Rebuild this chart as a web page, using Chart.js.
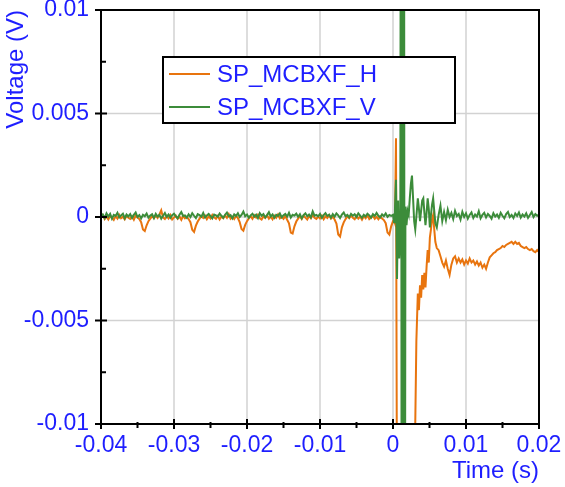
<!DOCTYPE html>
<html>
<head>
<meta charset="utf-8">
<title>SP_MCBXF voltage</title>
<script src="https://cdn.jsdelivr.net/npm/chart.js@4.4.0/dist/chart.umd.min.js"></script>
<style>
  body { margin: 0; background: #fff; }
  #chart { display: block; }
</style>
</head>
<body>
<canvas id="chart" width="565" height="487"></canvas>
<script>
// Series names
const seriesNames = ['SP_MCBXF_H', 'SP_MCBXF_V'];

// Quiet part before the event: one sample every 0.25 ms from -40 ms (values in mV)
const quietStartMs = -40;
const quietStepMs = 0.25;
const quietH = [
  -0.05, 0.08, -0.10, 0.02, -0.12, 0.05, -0.03, -0.14,
  0.04, -0.08, 0.10, -0.06, 0.01, -0.11, 0.06, -0.04,
  -0.09, 0.03, -0.13, 0.07, -0.02, -0.10, -0.25, -0.60,
  -0.68, -0.40, -0.20, -0.08, 0.03, -0.06, 0.08, -0.04,
  0.12, 0.32, -0.02, -0.10, 0.04, -0.07, 0.09, -0.12,
  -0.03, 0.06, -0.09, 0.02, -0.14, 0.05, -0.06, 0.01,
  -0.10, -0.25, -0.62, -0.72, -0.42, -0.22, -0.08, 0.04,
  -0.05, 0.07, -0.11, 0.03, -0.07, 0.10, -0.02, -0.09,
  0.05, -0.12, 0.02, -0.06, 0.08, -0.04, 0.14, -0.08,
  0.01, -0.10, 0.06, -0.05, -0.25, -0.58, -0.66, -0.38,
  -0.20, -0.07, 0.04, -0.09, 0.08, -0.03, 0.11, -0.06,
  -0.12, 0.03, -0.05, 0.09, -0.08, 0.02, -0.11, 0.06,
  -0.04, 0.12, -0.07, 0.01, -0.09, 0.05, -0.13, -0.30,
  -0.75, -0.80, -0.45, -0.22, -0.08, 0.04, -0.10, 0.07,
  -0.03, -0.12, 0.05, -0.06, 0.10, -0.04, -0.09, 0.02,
  -0.07, 0.06, -0.11, 0.03, -0.05, 0.09, -0.08, 0.01,
  -0.12, -0.32, -0.85, -0.95, -0.50, -0.26, -0.10, 0.03,
  -0.06, 0.08, -0.04, -0.11, 0.05, -0.08, 0.02, -0.13,
  0.04, -0.06, 0.09, -0.10, -0.02, 0.06, -0.09, 0.01,
  -0.11, 0.03, -0.07, -0.15, -0.30, -0.75, -0.85, -0.45
];
const quietV = [
  0.00, 0.12, -0.05, 0.18, 0.02, 0.15, -0.08, 0.10,
  0.05, 0.20, -0.02, 0.08, 0.16, -0.06, 0.12, 0.03,
  0.14, -0.04, 0.10, 0.22, 0.00, 0.09, -0.07, 0.11,
  0.04, 0.17, -0.03, 0.07, 0.13, -0.05, 0.15, 0.02,
  0.10, -0.08, 0.06, 0.19, 0.01, 0.12, -0.04, 0.09,
  0.16, 0.03, -0.06, 0.11, 0.24, 0.05, 0.08, -0.03,
  0.13, 0.00, 0.18, 0.06, -0.05, 0.14, 0.09, 0.02,
  0.20, -0.02, 0.07, 0.15, 0.04, -0.07, 0.12, 0.08,
  0.01, 0.17, 0.06, -0.04, 0.11, 0.21, 0.03, 0.09,
  -0.06, 0.13, 0.05, 0.18, 0.00, 0.10, 0.26, 0.04,
  0.12, -0.03, 0.08, 0.16, 0.02, 0.11, -0.05, 0.19,
  0.06, 0.14, -0.02, 0.09, 0.23, 0.03, 0.12, -0.04,
  0.10, 0.05, 0.17, -0.01, 0.08, 0.15, 0.02, 0.20,
  -0.03, 0.11, 0.07, 0.16, 0.01, 0.13, -0.06, 0.09,
  0.18, 0.04, 0.12, -0.02, 0.27, 0.06, 0.10, 0.03,
  0.15, -0.04, 0.09, 0.19, 0.05, 0.11, -0.03, 0.14,
  0.02, 0.17, 0.08, -0.05, 0.12, 0.22, 0.04, 0.10,
  -0.02, 0.15, 0.06, 0.13, 0.00, 0.18, 0.07, -0.04,
  0.11, 0.03, 0.16, 0.08, -0.03, 0.14, 0.05, 0.20,
  0.06, -0.02, 0.13, 0.04, 0.17, 0.01, 0.10, 0.05
];

// The event around t = 0, sampled finer (ms / mV)
const eventMs = [
  0.00, 0.14, 0.27, 0.41, 0.55, 0.70, 0.85, 1.00, 1.10, 1.20, 1.30, 1.40, 1.50, 1.60,
  1.70, 1.85, 2.00, 2.15, 2.30, 2.45, 2.60, 2.75, 2.90, 3.05, 3.20, 3.40, 3.55, 3.70,
  3.85, 4.00, 4.15, 4.30, 4.45, 4.60, 4.75, 4.90, 5.05, 5.20, 5.35, 5.50, 5.65, 5.80
];
const eventH = [
  -0.20, -0.15, -0.30, 3.80, -15, -15, -15, -15, -15, -15, -15, -15, -15, -15,
  -15, -15, -15, -15, -15, -15, -15, -15, -15, -10, -6.0, -3.7, -4.5, -3.3,
  -3.9, -2.8, -3.5, -2.7, -3.4, -2.4, -1.6, -2.2, -1.0, -0.6, -0.1, 0.1, -0.6, -1.2
];
const eventV = [
  0.10, -0.25, 0.40, 1.80, -3.0, 0.80, -2.0, -1.0, 30, -30, 30, -30, 30, -30,
  0.50, -0.40, 0.30, 0.10, 0.90, 1.60, 2.00, 0.90, -0.20, -0.60, 0.00, 0.90, 0.40, -0.20,
  0.30, 0.80, 0.90, 0.20, -0.40, 0.20, 0.90, 0.40, -0.50, 0.10, 0.60, 0.90, 0.30, -0.30
];

// Tail after the event: one sample every 0.25 ms from 6 ms (mV)
const tailStartMs = 6;
const tailStepMs = 0.25;
const tailH = [
  -1.5, -1.6, -1.9, -2.2, -2.4, -2.1, -2.5, -2.8,
  -2.3, -2.0, -1.9, -2.2, -2.0, -2.2, -2.05, -2.3,
  -2.1, -2.25, -2.0, -2.2, -2.1, -2.3, -2.15, -2.35,
  -2.2, -2.45, -2.3, -2.5, -2.2, -1.95, -1.85, -1.75,
  -1.7, -1.6, -1.55, -1.5, -1.4, -1.45, -1.35, -1.3,
  -1.25, -1.2, -1.3, -1.2, -1.3, -1.25, -1.4, -1.45,
  -1.5, -1.45, -1.55, -1.6, -1.55, -1.65, -1.7, -1.6,
  -1.7
];
const tailV = [
  -0.5, 0.1, 0.55, -0.2, 0.25, -0.15, 0.35, 0.0,
  0.2, -0.1, 0.3, 0.05, 0.15, -0.12, 0.25, 0.0,
  0.18, -0.08, 0.1, 0.22, -0.05, 0.12, 0.02, 0.28,
  -0.06, 0.1, 0.2, -0.02, 0.15, 0.05, -0.08, 0.18,
  0.02, 0.12, -0.04, 0.2, 0.06, -0.06, 0.14, 0.24,
  0.0, 0.1, -0.05, 0.17, 0.05, 0.22, -0.03, 0.12,
  0.02, 0.18, -0.04, 0.1, 0.24, 0.0, 0.14, 0.06,
  0.1
];

// Axis ticks (seconds / volts)
const xMajorTicks = [-0.04, -0.03, -0.02, -0.01, 0, 0.01, 0.02];
const xMinorTicks = [-0.035, -0.025, -0.015, -0.005, 0.005, 0.015];
const xTickLabels = ['-0.04', '-0.03', '-0.02', '-0.01', '0', '0.01', '0.02'];
const yMajorTicks = [-0.01, -0.005, 0, 0.005, 0.01];
const yMinorTicks = [-0.0075, -0.0025, 0.0025, 0.0075];
const yTickLabels = ['-0.01', '-0.005', '0', '0.005', '0.01'];

const BLUE = 'rgb(30,30,255)';
const ORANGE = '#e8740e';
const GREEN = '#3c8c3a';
const FONT = '"Liberation Sans", Arial, sans-serif';

// ms / mV -> s / V points
function gridPoints(startMs, stepMs, values) {
  return values.map((v, i) => ({ x: (startMs + i * stepMs) / 1000, y: v / 1000 }));
}
function listPoints(times, values) {
  return values.map((v, i) => ({ x: times[i] / 1000, y: v / 1000 }));
}

const hPoints = gridPoints(quietStartMs, quietStepMs, quietH)
  .concat(listPoints(eventMs, eventH), gridPoints(tailStartMs, tailStepMs, tailH));
const vPoints = gridPoints(quietStartMs, quietStepMs, quietV)
  .concat(listPoints(eventMs, eventV), gridPoints(tailStartMs, tailStepMs, tailV));

function tickList(major, minor) {
  return major.concat(minor).sort((a, b) => a - b).map(v => ({ value: v }));
}

// light grid under the data, frame + tick marks + boxed legend above it
const framePlugin = {
  id: 'frame',
  beforeDatasetsDraw(chart) {
    const { ctx, chartArea: a, scales: { x, y } } = chart;
    ctx.save();
    ctx.strokeStyle = '#d2d2d2';
    ctx.lineWidth = 1.5;
    ctx.beginPath();
    xMajorTicks.forEach(v => {
      const px = x.getPixelForValue(v);
      ctx.moveTo(px, a.top); ctx.lineTo(px, a.bottom);
    });
    yMajorTicks.forEach(v => {
      const py = y.getPixelForValue(v);
      ctx.moveTo(a.left, py); ctx.lineTo(a.right, py);
    });
    ctx.stroke();
    ctx.restore();
  },
  afterDatasetsDraw(chart) {
    const { ctx, chartArea: a, scales: { x, y } } = chart;
    ctx.save();
    ctx.strokeStyle = '#000';
    ctx.lineWidth = 2;
    ctx.strokeRect(a.left, a.top, a.right - a.left, a.bottom - a.top);

    ctx.beginPath();
    xMajorTicks.forEach(v => {
      const px = x.getPixelForValue(v);
      ctx.moveTo(px, a.bottom - 5); ctx.lineTo(px, a.bottom + 5);
    });
    xMinorTicks.forEach(v => {
      const px = x.getPixelForValue(v);
      ctx.moveTo(px, a.bottom - 2); ctx.lineTo(px, a.bottom + 4);
    });
    yMajorTicks.forEach(v => {
      const py = y.getPixelForValue(v);
      ctx.moveTo(a.left - 6, py); ctx.lineTo(a.left + 6, py);
    });
    yMinorTicks.forEach(v => {
      const py = y.getPixelForValue(v);
      ctx.moveTo(a.left - 1, py); ctx.lineTo(a.left + 5, py);
    });
    ctx.stroke();

    // legend box
    const box = { left: 163, top: 57, width: 292, height: 66 };
    ctx.fillStyle = '#fff';
    ctx.fillRect(box.left, box.top, box.width, box.height);
    ctx.strokeRect(box.left, box.top, box.width, box.height);
    ctx.font = '24px ' + FONT;
    ctx.textBaseline = 'middle';
    ctx.textAlign = 'left';
    chart.data.datasets.forEach((ds, i) => {
      const rowY = box.top + 17 + i * 33;
      ctx.strokeStyle = ds.borderColor;
      ctx.lineWidth = 2;
      ctx.beginPath();
      ctx.moveTo(box.left + 6, rowY);
      ctx.lineTo(box.left + 47, rowY);
      ctx.stroke();
      ctx.fillStyle = BLUE;
      ctx.fillText(ds.label, box.left + 54, rowY + 1);
    });
    ctx.restore();
  }
};

const ctx = document.getElementById('chart').getContext('2d');
new Chart(ctx, {
  type: 'line',
  data: {
    datasets: [
      {
        label: seriesNames[0],
        data: hPoints,
        borderColor: ORANGE,
        borderWidth: 2,
        pointRadius: 0,
        tension: 0,
        fill: false,
        clip: 0,
        order: 1
      },
      {
        label: seriesNames[1],
        data: vPoints,
        borderColor: GREEN,
        borderWidth: 2,
        pointRadius: 0,
        tension: 0,
        fill: false,
        clip: 0,
        order: 0
      }
    ]
  },
  options: {
    responsive: false,
    animation: false,
    devicePixelRatio: 1,
    layout: { padding: { top: 10, right: 26, left: 0, bottom: 0 } },
    plugins: {
      legend: { display: false },
      tooltip: { enabled: false }
    },
    scales: {
      x: {
        type: 'linear',
        min: -0.04,
        max: 0.02,
        afterBuildTicks: (scale) => { scale.ticks = tickList(xMajorTicks, xMinorTicks); },
        afterFit: (scale) => {
          scale.height = 63;
          scale.paddingLeft = 0;
          scale.paddingRight = 0;
        },
        grid: { display: false, drawTicks: false },
        border: { display: false },
        ticks: {
          autoSkip: false,
          maxRotation: 0,
          padding: 8,
          color: BLUE,
          font: { family: FONT, size: 23 },
          callback: (value) => {
            const i = xMajorTicks.indexOf(value);
            return i >= 0 ? xTickLabels[i] : '';
          }
        },
        title: {
          display: true,
          text: 'Time (s)',
          align: 'end',
          color: BLUE,
          font: { family: FONT, size: 24 },
          padding: { top: 0, bottom: 1 }
        }
      },
      y: {
        type: 'linear',
        min: -0.01,
        max: 0.01,
        afterBuildTicks: (scale) => { scale.ticks = tickList(yMajorTicks, yMinorTicks); },
        afterFit: (scale) => {
          scale.width = 101;
          scale.paddingTop = 0;
          scale.paddingBottom = 0;
        },
        grid: { display: false, drawTicks: false },
        border: { display: false },
        ticks: {
          autoSkip: false,
          padding: 12,
          color: BLUE,
          font: { family: FONT, size: 23 },
          callback: (value) => {
            const i = yMajorTicks.indexOf(value);
            return i >= 0 ? yTickLabels[i] : '';
          }
        },
        title: {
          display: true,
          text: 'Voltage (V)',
          align: 'end',
          color: BLUE,
          font: { family: FONT, size: 24 },
          padding: { top: 2, bottom: 0 }
        }
      }
    }
  },
  plugins: [framePlugin]
});
</script>
</body>
</html>
